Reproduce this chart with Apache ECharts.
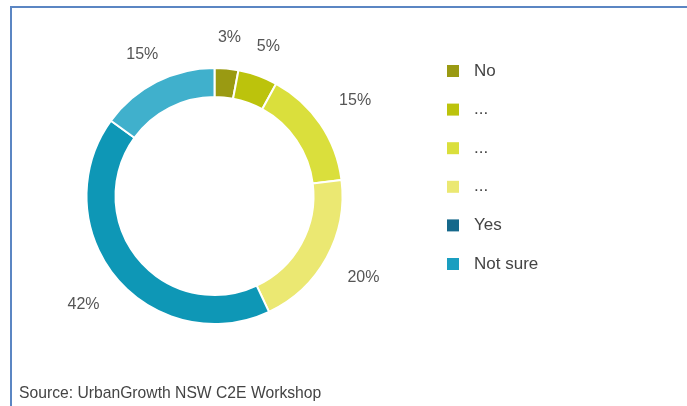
<!DOCTYPE html>
<html>
<head>
<meta charset="utf-8">
<script src="https://cdn.jsdelivr.net/npm/echarts@6/dist/echarts.min.js"></script>
<style>
  html, body { margin: 0; padding: 0; background: #fff; }
  #frame { position: absolute; left: 10px; top: 6px; width: 690px; height: 420px;
           border-top: 2px solid #5b86c3; border-left: 2px solid #5b86c3; }
  #chart { position: absolute; left: 0; top: 0; width: 687px; height: 406px; }
</style>
</head>
<body>
<div id="frame"></div>
<div id="chart"></div>
<script>
// Survey answers and their shares (%)
const categories = ['No', '...', '... ', '...  ', 'Yes', 'Not sure'];
const shares = [3, 5, 15, 20, 42, 15];
const sliceColors = ['#9a9a12', '#bcc30c', '#dadf3c', '#ebe872', '#0e97b6', '#40b0cc'];
const legendColors = ['#9a9a12', '#bcc30c', '#dadf3c', '#ebe872', '#15688b', '#1a9ec0'];
const sourceNote = 'Source: UrbanGrowth NSW C2E Workshop';

const FONT = 'Liberation Sans, Arial, sans-serif';
const CENTER = [214.5, 196];
const chart = echarts.init(document.getElementById('chart'));

const ringData = categories.map((name, i) => ({
  name, value: shares[i], itemStyle: { color: sliceColors[i] }
}));

// Invisible ring that carries percentage labels outside the donut.
// Labels near the top/bottom sit a little closer than those on the sides.
function labelRing(radius, shown) {
  return {
    type: 'pie',
    center: CENTER,
    radius,
    startAngle: 90,
    clockwise: true,
    silent: true,
    legendHoverLink: false,
    itemStyle: { color: 'rgba(0,0,0,0)' },
    label: { show: true, position: 'inside', formatter: '{c}%', fontSize: 16, color: '#555' },
    labelLine: { show: false },
    data: categories.map((name, i) => ({
      name, value: shares[i], label: { show: shown.includes(i) }
    }))
  };
}

chart.setOption({
  animation: false,
  textStyle: { fontFamily: FONT },
  legend: {
    orient: 'vertical',
    left: 442,
    top: 57.5,
    itemWidth: 12,
    itemHeight: 12,
    itemGap: 21.6,
    icon: 'rect',
    selectedMode: false,
    textStyle: { fontSize: 17, color: '#444', padding: [0, 0, 0, 10] },
    data: categories.map((name, i) => ({
      name, itemStyle: { color: legendColors[i], borderWidth: 0 }
    }))
  },
  graphic: [{
    type: 'text', left: 19, top: 386,
    style: { text: sourceNote, fontSize: 15.7, fill: '#444', fontFamily: FONT }
  }],
  series: [
    {
      type: 'pie',
      center: CENTER,
      radius: [99, 128],
      startAngle: 90,
      clockwise: true,
      silent: true,
      itemStyle: { borderColor: '#fff', borderWidth: 2 },
      label: { show: false },
      labelLine: { show: false },
      data: ringData
    },
    labelRing([141, 171], [0, 1, 5]),
    labelRing([152, 182], [2, 3, 4])
  ]
});
</script>
</body>
</html>
